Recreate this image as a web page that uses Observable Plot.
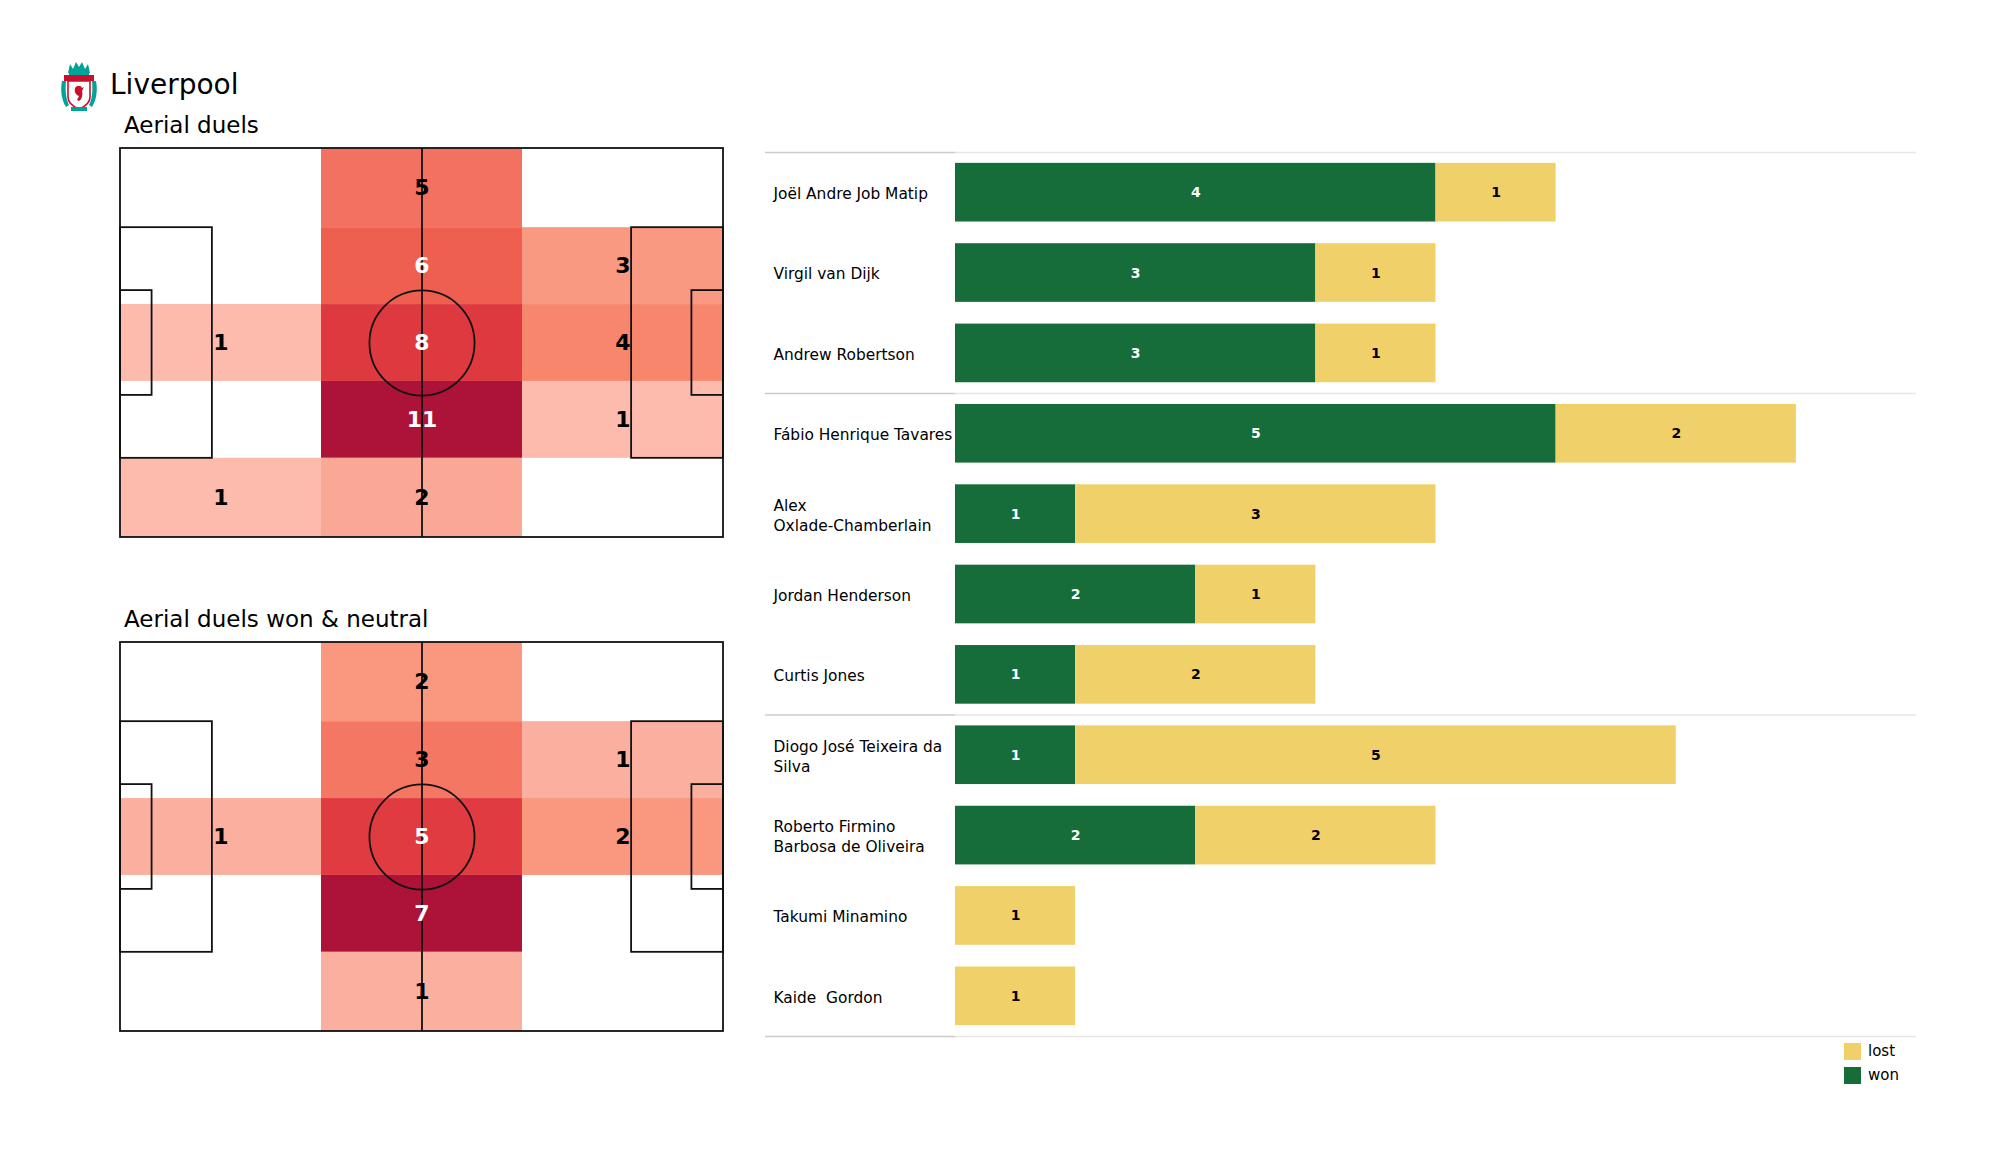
<!DOCTYPE html>
<html><head><meta charset="utf-8">
<script src="https://cdn.jsdelivr.net/npm/d3@7"></script>
<script src="https://cdn.jsdelivr.net/npm/@observablehq/plot@0.6"></script>
<style>
html,body{margin:0;padding:0;background:#fff;}
#root{position:relative;width:2000px;height:1175px;overflow:hidden;background:#fff;font-family:"DejaVu Sans",sans-serif;color:#000;}
.abs{position:absolute;white-space:nowrap;}
.title{font-size:28px;line-height:1;}
.sub{font-size:23px;line-height:1;}
.leg{font-size:15px;line-height:1;}
svg{overflow:visible;}
</style></head><body><div id="root"></div>
<script>
// ---------- data ----------
const teamName = "Liverpool";
const pitchTitles = ["Aerial duels", "Aerial duels won & neutral"];
const pitchLength = 105, pitchWidth = 68;
const zoneXEdges = [0, 35, 70, 105];
const zoneYEdges = [0, 13.84, 27.28, 40.72, 54.16, 68];
// rows top->bottom, columns left->right
const aerialAll = [
  [0, 5, 0],
  [0, 6, 3],
  [1, 8, 4],
  [0, 11, 1],
  [1, 2, 0]
];
const aerialWonNeutral = [
  [0, 2, 0],
  [0, 3, 1],
  [1, 5, 2],
  [0, 7, 0],
  [0, 1, 0]
];
const pitchBoxes = [
  {x1: 0, x2: 105, y1: 0, y2: 68},
  {x1: 0, x2: 16, y1: 13.84, y2: 54.16},
  {x1: 89, x2: 105, y1: 13.84, y2: 54.16},
  {x1: 0, x2: 5.5, y1: 24.84, y2: 43.16},
  {x1: 99.5, x2: 105, y1: 24.84, y2: 43.16}
];
const centreCircleRadius = 9.15;

const players = ["Joël Andre Job Matip", "Virgil van Dijk", "Andrew Robertson", "Fábio Henrique Tavares",
  "Alex Oxlade-Chamberlain", "Jordan Henderson", "Curtis Jones", "Diogo José Teixeira da Silva",
  "Roberto Firmino Barbosa de Oliveira", "Takumi Minamino", "Kaide  Gordon"];
const playerLabels = ["Joël Andre Job Matip", "Virgil van Dijk", "Andrew Robertson", "Fábio Henrique Tavares",
  "Alex\nOxlade-Chamberlain", "Jordan Henderson", "Curtis Jones", "Diogo José Teixeira da\nSilva",
  "Roberto Firmino\nBarbosa de Oliveira", "Takumi Minamino", "Kaide  Gordon"];
const wonValues = [4, 3, 3, 5, 1, 2, 1, 1, 2, 0, 0];
const lostValues = [1, 1, 1, 2, 3, 1, 2, 5, 2, 1, 1];
const groupSizes = [3, 4, 4];
const legendOrder = ["lost", "won"];

// ---------- styles ----------
const GREEN = "#166d39", YELLOW = "#f0d068";
const heatStops = [0.09, 0.18, 0.27, 0.36, 0.45, 0.55, 0.73, 1];
const heatColors = ["#fcbbad", "#faa895", "#f99a83", "#f7876c", "#f37262", "#ee5e4e", "#df3840", "#ad1238"];
const FONT = "DejaVu Sans";

const root = document.getElementById("root");
function place(el, left, top) { el.classList.add("abs"); el.style.left = left + "px"; el.style.top = top + "px"; root.appendChild(el); return el; }
function textDiv(txt, cls, left, top) { const d = document.createElement("div"); d.className = cls; d.textContent = txt; return place(d, left, top); }

// crest (decorative)
const crest = document.createElement("div");
crest.innerHTML = `<svg width="38" height="52" viewBox="0 0 38 52">
  <path d="M8 12 L10 3 L13 8 L16 1 L19 6 L22 1 L25 8 L28 3 L30 12 Z" fill="#00a398"/>
  <rect x="9" y="9" width="20" height="5" fill="#00a398"/>
  <rect x="4" y="14" width="30" height="6" fill="#c8102e"/>
  <path d="M2 20 C0 30 2 40 6 46 L9 44 C6 38 5 30 6 20 Z" fill="#00a398"/>
  <path d="M36 20 C38 30 36 40 32 46 L29 44 C32 38 33 30 32 20 Z" fill="#00a398"/>
  <path d="M8 20 L30 20 L30 36 C30 42 24 46 19 48 C14 46 8 42 8 36 Z" fill="#fff" stroke="#c8102e" stroke-width="1.6"/>
  <path d="M15 27 C17 24 21 24 22 27 L24 26 L22 30 C23 34 22 38 19 40 L17 39 L19 35 C16 34 14 31 15 27 Z" fill="#c8102e"/>
  <rect x="11" y="46" width="16" height="4" fill="#00a398"/>
</svg>`;
place(crest, 60, 61);
textDiv(teamName, "title", 110, 71);

// ---------- pitches ----------
function pitchPlot(values) {
  const max = d3.max(values.flat());
  const cells = [];
  values.forEach((row, r) => row.forEach((v, c) => {
    if (v > 0) cells.push({x1: zoneXEdges[c], x2: zoneXEdges[c + 1], y1: zoneYEdges[r], y2: zoneYEdges[r + 1], v, t: v / max});
  }));
  const W = 640, H = 430, mL = 20, mR = 17, mT = 20, mB = 21;
  const pxPerM = (W - mL - mR) / pitchLength;
  const cx = d => (d.x1 + d.x2) / 2, cy = d => (d.y1 + d.y2) / 2;
  const lbl = {x: cx, y: cy, text: d => String(d.v), fontWeight: "bold", fontSize: 22, fontFamily: FONT, dy: 0};
  return Plot.plot({
    width: W, height: H, marginLeft: mL, marginRight: mR, marginTop: mT, marginBottom: mB,
    x: {domain: [0, pitchLength], axis: null},
    y: {domain: [0, pitchWidth], axis: null, reverse: true},
    color: {type: "linear", domain: heatStops, range: heatColors, interpolate: "rgb"},
    style: {background: "transparent", fontFamily: FONT},
    marks: [
      Plot.rect(cells, {x1: "x1", x2: "x2", y1: "y1", y2: "y2", fill: "t"}),
      Plot.rect(pitchBoxes, {x1: "x1", x2: "x2", y1: "y1", y2: "y2", fill: "none", stroke: "#111", strokeWidth: 1.8}),
      Plot.ruleX([pitchLength / 2], {y1: 0, y2: pitchWidth, stroke: "#111", strokeWidth: 1.8}),
      Plot.dot([{x: pitchLength / 2, y: pitchWidth / 2}], {x: "x", y: "y", r: centreCircleRadius * pxPerM, fill: "none", stroke: "#111", strokeWidth: 1.8}),
      Plot.text(cells.filter(d => d.t <= 0.5), {...lbl, fill: "#000"}),
      Plot.text(cells.filter(d => d.t > 0.5), {...lbl, fill: "#fff"})
    ]
  });
}
textDiv(pitchTitles[0], "sub", 124, 114);
place(pitchPlot(aerialAll), 100, 128);
textDiv(pitchTitles[1], "sub", 124, 608);
place(pitchPlot(aerialWonNeutral), 100, 622);

// ---------- bars ----------
const rows = players.map((name, i) => ({i, name, label: playerLabels[i], won: wonValues[i], lost: lostValues[i]}));
const segs = rows.flatMap(d => [
  {i: d.i, outcome: "won", x1: 0, x2: d.won, v: d.won},
  {i: d.i, outcome: "lost", x1: d.won, x2: d.won + d.lost, v: d.lost}
]).filter(s => s.v > 0);
const bounds = [-0.5];
groupSizes.forEach(n => bounds.push(bounds[bounds.length - 1] + n));
const halfBar = 0.365;
const segLbl = {x: d => (d.x1 + d.x2) / 2, y: "i", text: d => String(d.v), fontWeight: "bold", fontSize: 14, fontFamily: FONT, dy: 0};
const bars = Plot.plot({
  width: 1170, height: 911, marginLeft: 195, marginRight: 14, marginTop: 12, marginBottom: 15,
  x: {domain: [0, 8], axis: null},
  y: {domain: [-0.5, rows.length - 0.5], axis: null, reverse: true},
  color: {domain: ["won", "lost"], range: [GREEN, YELLOW]},
  style: {background: "transparent", fontFamily: FONT},
  marks: [
    Plot.ruleY(bounds, {stroke: "#e6e6e6", strokeWidth: 1.5}),
    Plot.ruleY(bounds, {x1: 0, x2: 0, insetLeft: -190, stroke: "#cccccc", strokeWidth: 1.5}),
    Plot.rect(segs, {x1: "x1", x2: "x2", y1: d => d.i - halfBar, y2: d => d.i + halfBar, fill: "outcome"}),
    Plot.text(segs.filter(d => d.outcome === "won"), {...segLbl, fill: "#fff"}),
    Plot.text(segs.filter(d => d.outcome === "lost"), {...segLbl, fill: "#000"}),
    Plot.text(rows, {y: "i", text: "label", frameAnchor: "left", textAnchor: "start", dx: -182, fontSize: 15.4, lineHeight: 1.3, fill: "#000", fontFamily: FONT})
  ]
});
place(bars, 760, 140);

// ---------- legend ----------
const legColor = {won: GREEN, lost: YELLOW};
legendOrder.forEach((k, j) => {
  const sw = document.createElement("div");
  sw.style.width = "17px"; sw.style.height = "17px"; sw.style.background = legColor[k];
  place(sw, 1844, 1043 + j * 24);
  textDiv(k, "leg", 1868, 1044 + j * 24);
});
</script></body></html>
